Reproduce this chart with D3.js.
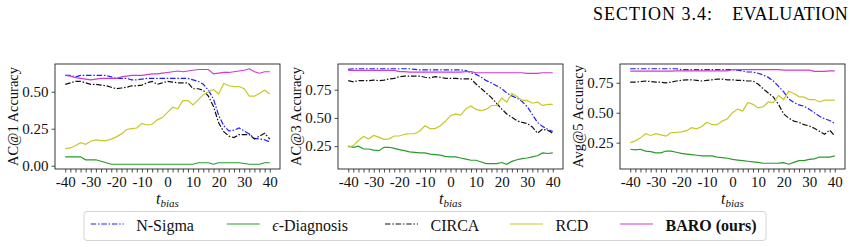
<!DOCTYPE html>
<html lang="en">
  <head>
    <meta charset="utf-8" />
    <title>t_bias sensitivity</title>
    <script type="text/javascript" src="https://d3js.org/d3.v7.min.js"></script>
    <style>
      body { margin: 0; background: #fff; }
      svg { display: block; }
      svg text { font-family: "Liberation Serif", "Times New Roman", serif; }
    </style>
  </head>
  <body>
    <div id="chart"></div>

    <script type="text/javascript">
      /********************************
       * data
       ********************************/

      const tBias = [-40, -38, -36, -34, -32, -30, -28, -26, -24, -22, -20, -18, -16, -14, -12, -10, -8, -6, -4, -2,
        0, 2, 4, 6, 8, 10, 12, 14, 16, 18, 20, 22, 24, 26, 28, 30, 32, 34, 36, 38, 40];
      const xTickLabels = [-40, -30, -20, -10, 0, 10, 20, 30, 40];

      const methods = ["N-Sigma", "ϵ-Diagnosis", "CIRCA", "RCD", "BARO (ours)"];
      const yLabels = ["AC@1 Accuracy", "AC@3 Accuracy", "Avg@5 Accuracy"];
      const yTicksAc1 = [0, 0.25, 0.5];
      const yTicksAc3 = [0.25, 0.5, 0.75];
      const yTicksAvg5 = [0.25, 0.5, 0.75];

      // AC@1
      const ac1NSigma = [0.61, 0.61, 0.60, 0.61, 0.61, 0.61, 0.61, 0.61, 0.61, 0.60,
        0.59, 0.59, 0.59, 0.58, 0.58, 0.585, 0.59, 0.59, 0.59, 0.59,
        0.59, 0.59, 0.59, 0.59, 0.59, 0.58, 0.57, 0.55, 0.51, 0.45,
        0.34, 0.27, 0.235, 0.24, 0.255, 0.235, 0.215, 0.185, 0.18, 0.175, 0.16];
      const ac1EDiag = [0.06, 0.06, 0.06, 0.06, 0.04, 0.04, 0.04, 0.03, 0.02, 0.01,
        0.01, 0.01, 0.01, 0.01, 0.01, 0.01, 0.01, 0.01, 0.01, 0.01,
        0.01, 0.01, 0.01, 0.01, 0.01, 0.01, 0.02, 0.02, 0.02, 0.01,
        0.02, 0.02, 0.02, 0.02, 0.02, 0.015, 0.01, 0.01, 0.01, 0.02, 0.02];
      const ac1Circa = [0.55, 0.56, 0.57, 0.57, 0.56, 0.55, 0.55, 0.545, 0.54, 0.53,
        0.52, 0.525, 0.53, 0.54, 0.54, 0.545, 0.56, 0.57, 0.55, 0.56,
        0.57, 0.565, 0.56, 0.56, 0.56, 0.52, 0.52, 0.51, 0.47, 0.40,
        0.29, 0.23, 0.20, 0.19, 0.21, 0.21, 0.21, 0.18, 0.20, 0.22, 0.18];
      const ac1Rcd = [0.115, 0.12, 0.135, 0.155, 0.145, 0.165, 0.175, 0.17, 0.17, 0.18,
        0.195, 0.215, 0.245, 0.25, 0.255, 0.285, 0.275, 0.28, 0.31, 0.325,
        0.36, 0.395, 0.385, 0.44, 0.44, 0.41, 0.445, 0.48, 0.50, 0.515,
        0.485, 0.555, 0.54, 0.535, 0.535, 0.52, 0.47, 0.47, 0.49, 0.51, 0.485];
      const ac1Baro = [0.61, 0.605, 0.595, 0.59, 0.585, 0.58, 0.585, 0.59, 0.59, 0.59,
        0.59, 0.60, 0.605, 0.61, 0.61, 0.61, 0.615, 0.62, 0.62, 0.625,
        0.63, 0.635, 0.64, 0.635, 0.64, 0.645, 0.65, 0.65, 0.65, 0.62,
        0.625, 0.63, 0.63, 0.635, 0.64, 0.645, 0.655, 0.635, 0.625, 0.635, 0.635];

      // AC@3
      const ac3NSigma = [0.93, 0.935, 0.935, 0.935, 0.935, 0.935, 0.935, 0.935, 0.935, 0.935,
        0.935, 0.935, 0.935, 0.93, 0.925, 0.925, 0.925, 0.925, 0.925, 0.925,
        0.925, 0.925, 0.925, 0.92, 0.90, 0.885, 0.86, 0.83, 0.81, 0.785,
        0.76, 0.72, 0.695, 0.675, 0.645, 0.60, 0.53, 0.46, 0.425, 0.40, 0.38];
      const ac3EDiag = [0.25, 0.24, 0.25, 0.225, 0.225, 0.215, 0.21, 0.24, 0.24, 0.23,
        0.22, 0.21, 0.20, 0.195, 0.19, 0.19, 0.18, 0.175, 0.17, 0.16,
        0.155, 0.155, 0.145, 0.135, 0.125, 0.125, 0.11, 0.095, 0.095, 0.095,
        0.105, 0.09, 0.115, 0.13, 0.14, 0.145, 0.155, 0.165, 0.19, 0.185, 0.19];
      const ac3Circa = [0.83, 0.82, 0.83, 0.83, 0.83, 0.835, 0.83, 0.835, 0.845, 0.85,
        0.865, 0.87, 0.87, 0.87, 0.87, 0.86, 0.855, 0.865, 0.86, 0.85,
        0.85, 0.85, 0.845, 0.845, 0.845, 0.80, 0.76, 0.72, 0.68, 0.63,
        0.58, 0.535, 0.505, 0.475, 0.46, 0.45, 0.42, 0.365, 0.40, 0.39, 0.365];
      const ac3Rcd = [0.24, 0.255, 0.30, 0.335, 0.315, 0.345, 0.33, 0.31, 0.315, 0.34,
        0.34, 0.355, 0.36, 0.36, 0.385, 0.43, 0.405, 0.405, 0.43, 0.47,
        0.52, 0.535, 0.525, 0.58, 0.605, 0.575, 0.565, 0.575, 0.61, 0.61,
        0.675, 0.64, 0.715, 0.69, 0.655, 0.655, 0.63, 0.64, 0.61, 0.62, 0.62];
      const ac3Baro = [0.92, 0.92, 0.92, 0.92, 0.92, 0.92, 0.92, 0.92, 0.92, 0.92,
        0.91, 0.91, 0.905, 0.905, 0.905, 0.905, 0.905, 0.905, 0.905, 0.905,
        0.905, 0.905, 0.905, 0.91, 0.91, 0.90, 0.90, 0.90, 0.90, 0.90,
        0.90, 0.90, 0.90, 0.90, 0.90, 0.895, 0.895, 0.895, 0.90, 0.90, 0.90];

      // Avg@5
      const avg5NSigma = [0.867, 0.867, 0.867, 0.867, 0.867, 0.867, 0.867, 0.867, 0.867, 0.867,
        0.86, 0.86, 0.86, 0.86, 0.86, 0.86, 0.86, 0.86, 0.86, 0.86,
        0.86, 0.855, 0.847, 0.84, 0.84, 0.83, 0.815, 0.795, 0.765, 0.72,
        0.675, 0.615, 0.585, 0.565, 0.555, 0.53, 0.50, 0.47, 0.45, 0.435, 0.41];
      const avg5EDiag = [0.195, 0.19, 0.195, 0.18, 0.175, 0.165, 0.165, 0.18, 0.18, 0.17,
        0.16, 0.155, 0.15, 0.145, 0.14, 0.14, 0.14, 0.13, 0.125, 0.12,
        0.11, 0.105, 0.10, 0.095, 0.09, 0.085, 0.078, 0.078, 0.078, 0.08,
        0.083, 0.07, 0.085, 0.10, 0.10, 0.11, 0.115, 0.13, 0.13, 0.13, 0.14];
      const avg5Circa = [0.755, 0.755, 0.76, 0.765, 0.76, 0.755, 0.755, 0.75, 0.755, 0.765,
        0.77, 0.775, 0.775, 0.77, 0.765, 0.77, 0.775, 0.78, 0.78, 0.775,
        0.775, 0.77, 0.77, 0.765, 0.765, 0.74, 0.70, 0.665, 0.63, 0.57,
        0.49, 0.455, 0.43, 0.42, 0.40, 0.39, 0.37, 0.345, 0.32, 0.355, 0.305];
      const avg5Rcd = [0.25, 0.265, 0.29, 0.325, 0.31, 0.325, 0.315, 0.305, 0.335, 0.335,
        0.34, 0.35, 0.375, 0.365, 0.385, 0.42, 0.40, 0.40, 0.43, 0.45,
        0.50, 0.53, 0.515, 0.585, 0.57, 0.54, 0.55, 0.59, 0.585, 0.645,
        0.61, 0.68, 0.66, 0.635, 0.63, 0.61, 0.61, 0.59, 0.605, 0.605, 0.605];
      const avg5Baro = [0.848, 0.848, 0.848, 0.848, 0.848, 0.848, 0.848, 0.848, 0.848, 0.85,
        0.85, 0.85, 0.85, 0.85, 0.85, 0.85, 0.85, 0.85, 0.85, 0.85,
        0.86, 0.86, 0.86, 0.86, 0.86, 0.86, 0.86, 0.86, 0.86, 0.86,
        0.855, 0.855, 0.855, 0.855, 0.855, 0.855, 0.845, 0.845, 0.845, 0.85, 0.85];

      /***************************
       * styles per method
       **************************/

      const colors = ["#1f1fff", "#2a9a2a", "#111111", "#c8c828", "#d03ad0"];
      const dashes = ["5.5,1.8,1.5,1.8", null, "5.5,1.8,1.5,1.8", null, null];
      const serif = '"Liberation Serif", "Times New Roman", serif';

      const panels = [
        { label: yLabels[0], ticks: yTicksAc1, series: [ac1NSigma, ac1EDiag, ac1Circa, ac1Rcd, ac1Baro], left: 55 },
        { label: yLabels[1], ticks: yTicksAc3, series: [ac3NSigma, ac3EDiag, ac3Circa, ac3Rcd, ac3Baro], left: 338 },
        { label: yLabels[2], ticks: yTicksAvg5, series: [avg5NSigma, avg5EDiag, avg5Circa, avg5Rcd, avg5Baro], left: 620 },
      ];

      /***************************
       * create svg
       **************************/

      const width = 856;
      const height = 247;
      const plotW = 225;
      const plotH = 105;
      const plotTop = 64;

      const svg = d3
        .select("div#chart")
        .append("svg")
        .attr("width", width)
        .attr("height", height)
        .attr("font-family", serif);

      // page header
      svg.append("text")
        .attr("x", 713).attr("y", 20)
        .attr("text-anchor", "end")
        .attr("font-family", serif)
        .attr("font-size", 18)
        .attr("letter-spacing", 1)
        .text("SECTION 3.4:");
      svg.append("text")
        .attr("x", 848).attr("y", 20)
        .attr("text-anchor", "end")
        .attr("font-family", serif)
        .attr("font-size", 18)
        .attr("letter-spacing", 0.3)
        .text("EVALUATION");

      /****************************
       * panels
       *************************/

      panels.forEach((p) => {
        const g = svg.append("g").attr("transform", `translate(${p.left},${plotTop})`);

        const xScale = d3.scaleLinear().domain([-44, 44]).range([0, plotW]);

        const all = p.series.flat();
        const lo = d3.min(all);
        const hi = d3.max(all);
        const pad = (hi - lo) * 0.05;
        const yScale = d3.scaleLinear().domain([lo - pad, hi + pad]).range([plotH, 0]);

        const xAxis = d3
          .axisBottom(xScale)
          .tickValues(tBias)
          .tickSize(3.5)
          .tickPadding(4)
          .tickFormat((d) => (xTickLabels.includes(d) ? String(d) : ""));

        const yAxis = d3
          .axisLeft(yScale)
          .tickValues(p.ticks)
          .tickSize(3.5)
          .tickPadding(3)
          .tickFormat(d3.format(".2f"));

        const xg = g.append("g").attr("transform", `translate(0,${plotH})`).call(xAxis);
        const yg = g.append("g").call(yAxis);

        [xg, yg].forEach((ax) => {
          ax.attr("font-family", serif);
          ax.select(".domain").remove();
          ax.selectAll("line").attr("stroke", "#222").attr("stroke-width", 0.8);
          ax.selectAll("text")
            .attr("fill", "#111")
            .attr("font-size", 15)
            .attr("font-family", serif);
        });

        // series
        const line = d3
          .line()
          .x((d, i) => xScale(tBias[i]))
          .y((d) => yScale(d));

        p.series.forEach((s, k) => {
          g.append("path")
            .datum(s)
            .attr("d", line)
            .attr("fill", "none")
            .attr("stroke", colors[k])
            .attr("stroke-width", 1.2)
            .attr("stroke-dasharray", dashes[k]);
        });

        // frame
        g.append("rect")
          .attr("width", plotW)
          .attr("height", plotH)
          .attr("fill", "none")
          .attr("stroke", "#222")
          .attr("stroke-width", 0.9);

        // y label
        g.append("text")
          .attr("transform", `translate(-37,${plotH / 2}) rotate(-90)`)
          .attr("text-anchor", "middle")
          .attr("font-family", serif)
          .attr("font-size", 14.5)
          .attr("fill", "#111")
          .text(p.label);

        // x label: t_bias
        const xl = g.append("text")
          .attr("x", plotW / 2)
          .attr("y", 140)
          .attr("text-anchor", "middle")
          .attr("font-family", serif)
          .attr("font-size", 16)
          .attr("font-style", "italic")
          .attr("fill", "#111");
        xl.append("tspan").text("t");
        xl.append("tspan").attr("font-size", 11).attr("dy", 3).text("bias");
      });

      /*******************************
       * legend
       *******************************/

      const legendX = [90.7, 226.7, 385, 510, 620];

      const legend = svg.append("g");
      legend.append("rect")
        .attr("x", 84).attr("y", 211.5)
        .attr("width", 682)
        .attr("height", 29)
        .attr("rx", 3)
        .attr("fill", "#fff")
        .attr("stroke", "#d4d4d4")
        .attr("stroke-width", 1);

      methods.forEach((m, k) => {
        const cx = legendX[k];
        legend.append("line")
          .attr("x1", cx).attr("x2", cx + 33)
          .attr("y1", 224).attr("y2", 224)
          .attr("stroke", colors[k])
          .attr("stroke-width", 1.2)
          .attr("stroke-dasharray", dashes[k]);
        const t = legend.append("text")
          .attr("x", cx + 45.5)
          .attr("y", 230.5)
          .attr("font-family", serif)
          .attr("font-size", 16)
          .attr("fill", "#111");
        if (m.startsWith("ϵ")) {
          t.append("tspan").attr("font-style", "italic").text("ϵ");
          t.append("tspan").text(m.slice(1));
        } else {
          t.text(m);
        }
        if (k === methods.length - 1) t.attr("font-weight", "bold");
      });
    </script>
  </body>
</html>
